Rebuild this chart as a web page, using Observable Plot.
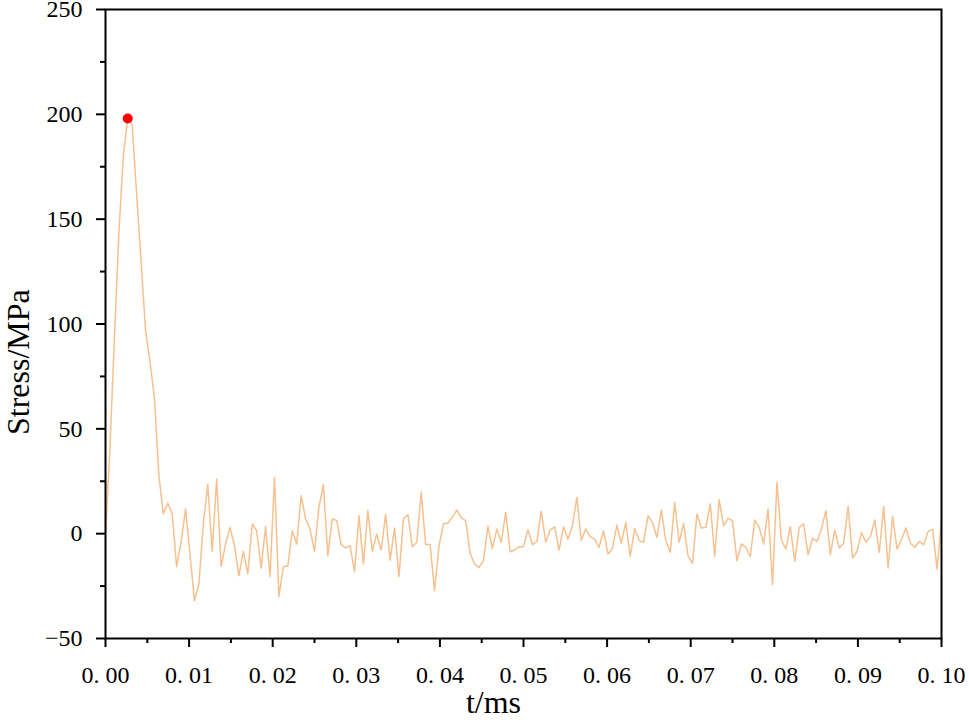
<!DOCTYPE html>
<html><head><meta charset="utf-8">
<script src="https://cdn.jsdelivr.net/npm/d3@7"></script>
<script src="https://cdn.jsdelivr.net/npm/@observablehq/plot@0.6"></script>
<style>
html,body{margin:0;padding:0;background:#fff;}
svg text{font-family:'Liberation Serif','Times New Roman',serif;}
</style></head><body><div id="chart"></div>
<script>
// Stress (MPa), uniformly sampled from t = 0 to t = 0.10 ms
const stress = [
  0, 41, 93, 143, 180, 198, 195, 162, 130, 97,
  82, 65, 28, 9.4, 14.6, 9.4, -15.7, -4, 11.8, -9.7,
  -32, -24, 4.6, 23.4, -8.4, 26.1, -15.7, -4.9, 3, -5.7,
  -20, -8.4, -19.2, 4.6, 1.4, -16.5, 3.3, -20.4, 26.9, -30,
  -15.7, -15.4, 1.4, -4.9, 18.1, 7, 2.2, -8.4, 12.6, 23.4,
  -10.5, 7, 6.2, -5.2, -6.8, -5.7, -18.1, 8.6, -14.5, 11,
  -8.4, -0.2, -7.8, 9.1, -12.6, 2.7, -20.4, 7, 9.1, -6.2,
  -4.1, 19.7, -5.2, -5.2, -27.2, -5.7, 4.6, 5.1, 7.8, 11.3,
  7.5, 6.2, -9.4, -14.5, -16.1, -12.9, 3.5, -7, 2.2, -4.1,
  10.2, -8.6, -7.8, -6.2, -6.2, 1.9, -5.2, -3.7, 10.7, -4.1,
  1.7, 3.3, -7.8, 3.3, -2.7, 3.8, 17.3, -3.3, 2.2, -1.4,
  -2.7, -6.5, 1.4, -9.7, -7, 4.1, -4.6, 5.4, -10.8, 2.5,
  -3.3, -4.1, 8.6, 5.4, -1.7, 11.3, -3.3, -8.9, 14.9, -4.1,
  4.9, -10.5, -14.2, 9.4, 2.7, 3, 14.2, -10.8, 16.2, 3.8,
  7.3, 6.2, -12.9, -4.9, -6.5, -11, 6.5, 3, -4.9, 11.8,
  -24.3, 24.5, -3, -7.3, 3.3, -13.2, 3, 4.6, -10, -2.2,
  -3.7, 2.2, 11, -10, 1.7, -6.8, -4.6, 13, -11.6, -8.4,
  0.6, -4.1, -1.4, 6.5, -8.9, 13, -16.4, 8.3, -7.3, -2.9,
  2.7, -4.6, -6.5, -3.7, -5.2, 1.1, 2.2, -16.9, 6.2
];
const tStart = 0;
const tEnd = 0.1;

const xTicks = [0, 0.01, 0.02, 0.03, 0.04, 0.05, 0.06, 0.07, 0.08, 0.09, 0.1];
const xTickLabels = ["0. 00", "0. 01", "0. 02", "0. 03", "0. 04", "0. 05", "0. 06", "0. 07", "0. 08", "0. 09", "0. 10"];
const xMinorTicks = [0.005, 0.015, 0.025, 0.035, 0.045, 0.055, 0.065, 0.075, 0.085, 0.095];
const yTicks = [-50, 0, 50, 100, 150, 200, 250];
const yTickLabels = ["\u221250", "0", "50", "100", "150", "200", "250"];
const yMinorTicks = [-25, 25, 75, 125, 175, 225];

const xLabel = "t/ms";
const yLabel = "Stress/MPa";

const dt = (tEnd - tStart) / (stress.length - 1);
const data = stress.map((v, i) => ({t: tStart + i * dt, v}));
const peak = data.reduce((a, b) => (b.v > a.v ? b : a));

const xFmt = new Map(xTicks.map((d, i) => [d, xTickLabels[i]]));
const yFmt = new Map(yTicks.map((d, i) => [d, yTickLabels[i]]));

const font = "'Liberation Serif', 'Times New Roman', serif";

const plot = Plot.plot({
  width: 969,
  height: 720,
  marginLeft: 105,
  marginRight: 28,
  marginTop: 9,
  marginBottom: 82,
  style: {fontFamily: font, fontSize: "24px", color: "#000", background: "#fff", overflow: "visible"},
  x: {domain: [0, 0.1]},
  y: {domain: [-50, 250]},
  marks: [
    Plot.line(data, {x: "t", y: "v", stroke: "#f7c08f", strokeWidth: 1.5}),
    Plot.dot([peak], {x: "t", y: "v", r: 5, fill: "#ff0000", stroke: "none"}),
    Plot.frame({stroke: "#000", strokeWidth: 2}),
    Plot.axisX(xTicks, {tickSize: 9, tickPadding: 18, strokeWidth: 2, tickFormat: d => xFmt.get(d), label: null, fontSize: 24, fontFamily: font}),
    Plot.axisX(xMinorTicks, {tickSize: 5, strokeWidth: 2, tickFormat: () => "", label: null}),
    Plot.axisY(yTicks, {tickSize: 9, tickPadding: 14, strokeWidth: 2, tickFormat: d => yFmt.get(d), label: null, fontSize: 24, fontFamily: font}),
    Plot.axisY(yMinorTicks, {tickSize: 5, strokeWidth: 2, tickFormat: () => "", label: null}),
    Plot.text([yLabel], {text: d => d, frameAnchor: "left", dx: -87, dy: 111, rotate: -90, fontSize: 32, fontFamily: font}),
    Plot.text([xLabel], {text: d => d, frameAnchor: "bottom", dx: -30, dy: 74, fontSize: 32, fontFamily: font})
  ]
});
document.getElementById("chart").appendChild(plot);
</script>
</body></html>
